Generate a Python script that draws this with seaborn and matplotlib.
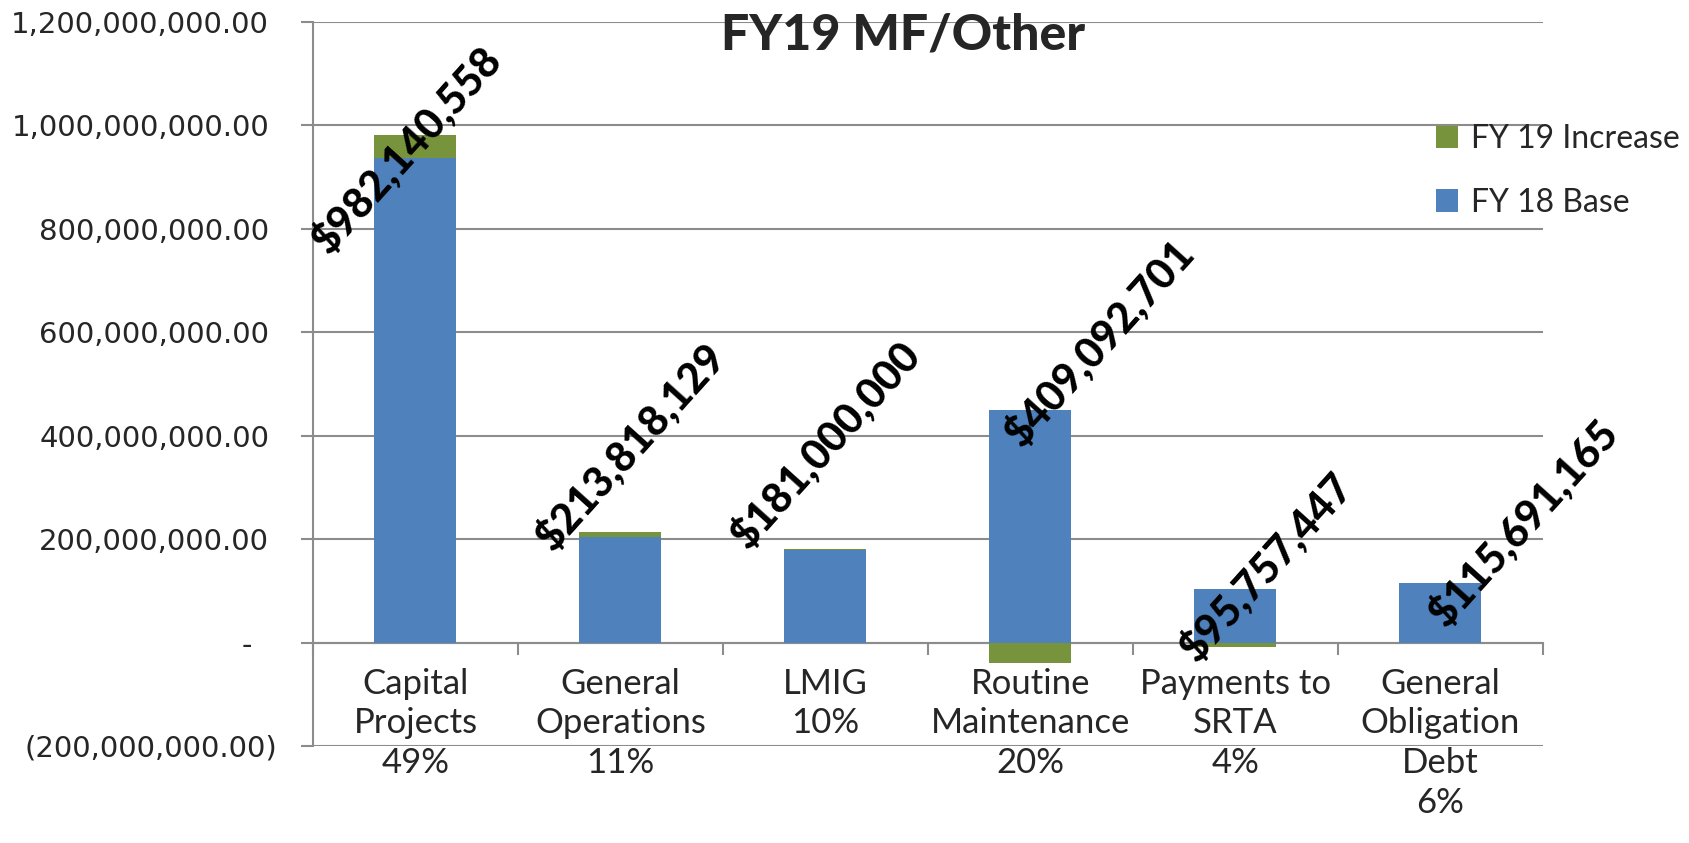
import numpy as np
import pandas as pd
import matplotlib
matplotlib.use("Agg")
import matplotlib.pyplot as plt
from matplotlib.patches import Patch
from matplotlib.ticker import FuncFormatter, FixedLocator
from matplotlib.transforms import ScaledTranslation
import seaborn as sns

# ---- data ----
categories = ["Capital\nProjects\n49%", "General\nOperations\n11%", "LMIG\n10%",
              "Routine\nMaintenance\n20%", "Payments to\nSRTA\n4%",
              "General\nObligation\nDebt\n6%"]
fy18_base = [936_500_000, 204_000_000, 179_500_000, 448_800_000, 103_900_000, 115_691_165]
fy19_increase = [45_640_558, 9_818_129, 1_500_000, -39_707_299, -8_142_553, 0]
y_ticks = [-200e6, 0, 200e6, 400e6, 600e6, 800e6, 1000e6, 1200e6]

# label placement offsets (pixels, relative to bar total)
label_offsets_px = [(-9, -15), (10, 85), (0, 104), (69, 88), (31, 26), (83, 60)]

BLUE = "#4F81BD"
GREEN = "#77933C"
GRID = "#8C8C8C"

sns.set_style("white")
plt.rcParams["font.family"] = ["Lato", "DejaVu Sans"]

fig = plt.figure(figsize=(16.9, 8.43), dpi=100)
W, H = 1690, 843
ax = fig.add_axes([313 / W, 1 - 746 / H, (1543 - 313) / W, (746 - 22) / H])

totals = [b + i for b, i in zip(fy18_base, fy19_increase)]
green_vals = [b + i if i > 0 else i for b, i in zip(fy18_base, fy19_increase)]

sns.barplot(x=categories, y=green_vals, color=GREEN, width=0.4, saturation=1,
            errorbar=None, ax=ax, linewidth=0)
sns.barplot(x=categories, y=fy18_base, color=BLUE, width=0.4, saturation=1,
            errorbar=None, ax=ax, linewidth=0)

ax.set_xlim(-0.5, len(categories) - 0.5)
ax.set_ylim(y_ticks[0], y_ticks[-1])
ax.set_yticks(y_ticks)


def yfmt(v, pos):
    if abs(v) < 1:
        return "-"
    if v < 0:
        return "({:,.2f})".format(-v)
    return "{:,.2f}".format(v)


ax.yaxis.set_major_formatter(FuncFormatter(yfmt))
ax.set_axisbelow(True)
ax.grid(axis="y", color=GRID, linewidth=1.5)
ax.grid(axis="x", visible=False)

for s in ["top", "right"]:
    ax.spines[s].set_visible(False)
ax.spines["left"].set_color(GRID)
ax.spines["left"].set_linewidth(1.5)
ax.spines["bottom"].set_position(("data", 0))
ax.spines["bottom"].set_color(GRID)
ax.spines["bottom"].set_linewidth(1.5)
ax.spines["bottom"].set_zorder(0.5)

ax.tick_params(axis="y", which="major", direction="out", length=8.6, width=1.5,
               color=GRID, labelsize=21, pad=23, left=True)

ax.xaxis.set_minor_locator(FixedLocator(np.arange(-0.5, len(categories), 1.0)))
ax.tick_params(axis="x", which="minor", direction="out", length=8.6, width=1.5,
               color=GRID, bottom=True)
ax.tick_params(axis="x", which="major", length=0, labelsize=25, pad=18)
for t in ax.get_xticklabels():
    t.set_linespacing(1.3)
ax.set_xlabel("")
ax.set_ylabel("")

# accounting-style alignment of y tick labels
for tick, v in zip(ax.yaxis.get_major_ticks(), y_ticks):
    lab = tick.label1
    lab.set_fontfamily("DejaVu Sans")
    if v < 0:
        lab.set_transform(lab.get_transform() + ScaledTranslation(8 / 100, 0, fig.dpi_scale_trans))
    elif v == 0:
        lab.set_transform(lab.get_transform() + ScaledTranslation(-17 / 100, 0, fig.dpi_scale_trans))

# data labels
for i, (tot, (dx, dy)) in enumerate(zip(totals, label_offsets_px)):
    ax.annotate("${:,.0f}".format(tot), xy=(i, tot), xytext=(dx * 0.72, dy * 0.72),
                textcoords="offset points", ha="center", va="center", rotation=48,
                fontsize=30, fontweight="black", color="black", zorder=5,
                annotation_clip=False)

fig.text(903 / W, 1 - 35 / H, "FY19 MF/Other", ha="center", va="center",
         fontsize=36, fontweight="black")

handles = [Patch(facecolor=GREEN, edgecolor="none", label="FY 19 Increase"),
           Patch(facecolor=BLUE, edgecolor="none", label="FY 18 Base")]
fig.legend(handles=handles, loc="upper left", bbox_to_anchor=(1436 / W, 1 - 124 / H),
           frameon=False, fontsize=23, handlelength=0.7, handleheight=0.7,
           handletextpad=0.4, labelspacing=1.05, borderpad=0, borderaxespad=0)

fig.savefig("out.png", dpi=100)
